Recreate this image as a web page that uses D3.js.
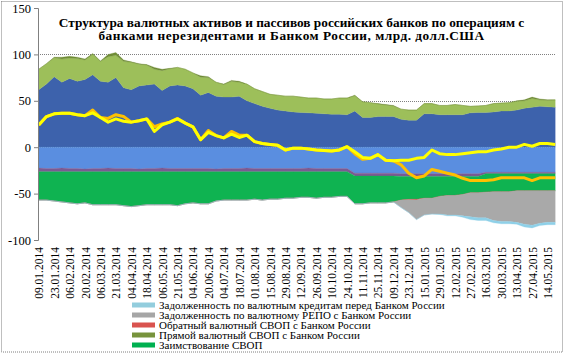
<!DOCTYPE html>
<html><head><meta charset="utf-8">
<script src="https://cdn.jsdelivr.net/npm/d3@7"></script>
<style>body{margin:0;background:#fff}</style>
</head><body><svg id="c" width="565" height="355" font-family="'Liberation Serif', 'Times New Roman', Tinos, serif"></svg>
<script>
// x-axis tick labels (every 10 trading days)
const tickLabels = ["09.01.2014","23.01.2014","06.02.2014","20.02.2014","06.03.2014","21.03.2014","04.04.2014","18.04.2014","06.05.2014","21.05.2014","04.06.2014","20.06.2014","04.07.2014","18.07.2014","01.08.2014","15.08.2014","29.08.2014","12.09.2014","26.09.2014","10.10.2014","24.10.2014","11.11.2014","25.11.2014","09.12.2014","23.12.2014","15.01.2015","29.01.2015","12.02.2015","27.02.2015","16.03.2015","30.03.2015","13.04.2015","27.04.2015","14.05.2015"];
const yTicks = [-100,-50,0,50,100,150];
// series sampled every 5 trading days (68 samples)
const posBlue  = [62,68,76,70,74,71,73,78,71,70,75,64,62,66,67,68,61,66,67,66,63,56,59,55,54,54,55,50,47,44,42,40,39,38,37.5,37,36.5,36,35.5,35.5,35,39,32,32,33,33,33,30,29,29,36,36,35,35,35,35,37,37.5,37.5,38,39,39,40,42,43,44,43.5,43];
const posGreen = [22,22,20.5,25,22,24.5,21,22,21.5,27.5,24,28.5,29.5,23.5,21.5,16,21.5,18.5,19,18,17,19.5,16,15,13.5,17,15,18,16,16,15,16,16,17,16.5,16,16.5,16,16.5,17.5,18,16.5,17,16,13.5,12.5,11.5,11,11,11,11,11,10,10,11,10,7,7,7.5,9,8.5,9,9.5,8,9.5,7,7,8];
const olive    = [0,0,0.5,2,2,1.5,1,1,0.5,2.5,3,1.5,0.5,0.5,0.5,2,1.5,0.5,0,0,0,1.5,1,0,0.5,1,1,0,0,0,0,0,0,0,0,0,0,0,0,0,0,0.5,0,0,0.5,0.5,0.5,0,0,0,0,0,0,0,0,0,0,0,0,0,0,0,0.5,1,1.5,1,0.5,0];
const negBlue  = [-22.5,-23,-23,-22.5,-23,-23,-23.5,-23,-23,-22.5,-23,-23,-23,-23.5,-23,-23,-22.5,-23,-23,-23,-23,-23,-23,-23.5,-23,-23,-23,-22.5,-23,-23,-23,-23,-23,-23,-23,-22.5,-23,-23,-23,-23,-23,-28,-28,-28,-28,-28,-28,-28.5,-28.5,-28.5,-28.5,-28.5,-28.5,-28.5,-28.5,-28.5,-28.5,-28.5,-27,-27,-27,-27,-27,-27,-27,-27,-27,-27];
const negPurple= [-4,-3.5,-3.5,-4,-3.5,-3.5,-3,-3.5,-3.5,-4,-3.5,-3.5,-3.5,-3,-3.5,-3.5,-4,-3.5,-3.5,-3.5,-3.5,-3.5,-3.5,-3,-3.5,-3.5,-3.5,-4,-3.5,-3.5,-3.5,-3.5,-3.5,-3.5,-3.5,-4,-3.5,-3.5,-3.5,-3.5,-3.5,-3,-3,-3,-3,-3,-3,-3,-3,-3,-3,-3,-3,-3,-3,-3,-3,-3,-1.5,-1.5,-1.5,-1.5,-1.5,-1.5,-1.5,-1.5,-1.5,-1.5];
const negGreen = [-30.5,-30.5,-31.5,-32.5,-33.5,-34.5,-33.5,-35.5,-35.5,-35.5,-35.5,-36.5,-37.5,-36.5,-35.5,-35.5,-35.5,-35.5,-36.5,-34.5,-33.5,-34.5,-34.5,-31.5,-30.5,-30.5,-30.5,-30.5,-29.5,-30.5,-29.5,-29.5,-28.5,-28.5,-27.5,-27.5,-28.5,-27.5,-27.5,-26.5,-26.5,-30,-30,-29,-29,-29,-28,-25.5,-24.5,-24.5,-23.5,-23.5,-21.5,-20.5,-20.5,-19.5,-17.5,-17.5,-20,-19.5,-19.5,-19.5,-18.5,-18.5,-18.5,-18.5,-18.5,-18.5];
const negRed   = [0,0,0,0,0,0,0,0,0,0,0,0,0,0,0,0,0,0,0,0,0,0,0,0,0,0,0,0,0,0,0,0,0,0,0,0,0,0,0,0,0,0,0,0,0,0,0,0,-0.5,-1,0,0,0,0,0,0,0,0,0,0,0,0,0,0,0,0,0,0];
const negGray  = [0,0,0,0,0,0,0,0,0,0,0,0,0,0,0,0,0,0,0,0,0,0,0,0,0,0,0,0,0,0,0,0,0,0,0,0,0,0,0,0,0,0,0,0,0,0,0,-8,-14,-21,-18,-17,-19,-21,-21,-23,-26,-27,-27.5,-31,-32,-32,-34,-36,-37,-35,-34,-34];
const negLtBlue= [0,0,0,0,0,0,0,0,0,0,0,0,0,0,0,0,0,0,0,0,0,0,0,0,0,0,0,0,0,0,0,0,0,0,0,0,0,0,0,0,0,0,0,0,0,0,0,0,0,0,0,0,-0.5,-1,-1,-1.5,-3,-3,-3,-2.5,-2.5,-2.5,-2,-3,-3,-2.5,-2.5,-2.5];
const lineYellow = [24,33,36,36.5,36.5,35,34,37,32,27,30.5,28,27,28.5,30.5,17,24,27,30.5,26,22,8,16,12.5,10,14,10.5,13,6,4,3,2,-3,-1,-1,-2,-3,-3.5,-4,-3,0.5,-5,-11,-12,-8,-14,-14.5,-14,-14,-12,-11,-3,-7,-8,-8,-7,-6,-5,-5,-3,-2,0,0,3,1,4,4,3];
const lineOrange = [24,33,36,36.5,36.5,35,34,40,32,31,35,33,27,28.5,30.5,22,25,27,31,26,22,8,18,12.5,10,17,13,13,6,4,3,2,-3,-1,-1,-2,-3,-3.5,-4,-3,0.5,-7,-13,-12,-8,-14,-14.5,-19,-28,-33,-31,-24,-26,-28,-30,-33.5,-36,-36,-36,-35,-33,-33,-33,-33,-36,-33,-33,-33];

const seriesDefs = [
  {v: posBlue,   c: "#3D62AC"},
  {v: posGreen,  c: "#9DBF5A"},
  {v: olive,     c: "#6F8C36"},
  {v: negBlue,   c: "#5A8EE0"},
  {v: negPurple, c: "#7B5A92"},
  {v: negGreen,  c: "#0FB351"},
  {v: negRed,    c: "#D9534F"},
  {v: negGray,   c: "#A9A9A9"},
  {v: negLtBlue, c: "#8ED0E8"}
];
const legendItems = [
  {t: "Задолженность по валютным кредитам перед Банком России", c: "#93CDDD"},
  {t: "Задолженность по валютному РЕПО  с Банком России", c: "#A6A6A6"},
  {t: "Обратный  валютный СВОП с Банком России", c: "#D9534F"},
  {t: "Прямой валютный СВОП с Банком России", c: "#77933C"},
  {t: "Заимствование СВОП", c: "#00B050"}
];

const FF = "'Liberation Serif', 'Times New Roman', Tinos, serif";
const svg = d3.select("#c");
const nDays = 336, step = 5, nPts = posBlue.length;
const x = d3.scaleLinear().domain([-0.5, nDays - 0.5]).range([38, 556]);
const y = d3.scaleLinear().domain([-100, 150]).range([240, 8]);

// border
svg.append("rect").attr("x",1.5).attr("y",1.5).attr("width",561).attr("height",350.5)
  .attr("fill","none").attr("stroke","#7f7f7f").attr("stroke-dasharray","1,1");

// gridlines
svg.append("g").selectAll("line").data([0,50,100]).join("line")
  .attr("x1",38).attr("x2",556).attr("y1",d=>Math.round(y(d))+0.5).attr("y2",d=>Math.round(y(d))+0.5)
  .attr("stroke","#808080").attr("stroke-dasharray","1,1");

// manual diverging stack
const stacked = seriesDefs.map(()=>[]);
for (let k=0;k<nPts;k++){
  let pos=0, neg=0;
  seriesDefs.forEach((s,i)=>{
    const v=s.v[k];
    if(i<3){ stacked[i].push([k,pos,pos+v]); pos+=v; }
    else { stacked[i].push([k,neg,neg+v]); neg+=v; }
  });
}
const area = d3.area().x(d=>x(d[0]*step)).y0(d=>y(d[1])).y1(d=>y(d[2]));
svg.append("g").selectAll("path").data(stacked).join("path")
  .attr("d",area).attr("fill",(d,i)=>seriesDefs[i].c)
  .attr("stroke",(d,i)=>seriesDefs[i].c).attr("stroke-width",0.3);

// lines
const line = d3.line().x((d,k)=>x(k*step)).y(d=>y(d));
svg.append("path").datum(lineOrange).attr("d",line).attr("fill","none")
  .attr("stroke","#FFC000").attr("stroke-width",3).attr("stroke-linejoin","round");
svg.append("path").datum(lineYellow).attr("d",line).attr("fill","none")
  .attr("stroke","#FFFF00").attr("stroke-width",3).attr("stroke-linejoin","round");

// y axis
const ya = svg.append("g").attr("transform","translate(38,0)")
  .call(d3.axisLeft(y).tickValues(yTicks).tickSize(4).tickPadding(3).tickFormat(d=>d));
ya.attr("font-family", FF);
ya.select(".domain").attr("stroke","#808080");
ya.selectAll(".tick line").attr("stroke","#808080");
ya.selectAll("text").attr("font-size",12.5).attr("fill","#000").attr("font-family",FF);

// legend
const lg = svg.append("g");
legendItems.forEach((it,i)=>{
  const cy = 305 + i*10;
  lg.append("rect").attr("x",132).attr("y",cy-2.5).attr("width",23).attr("height",5).attr("fill",it.c);
  lg.append("text").attr("x",159).attr("y",cy+3.5).attr("font-size",11).attr("font-family",FF).text(it.t);
});

// x tick labels
svg.append("g").selectAll("text").data(tickLabels).join("text")
  .attr("transform",(d,i)=>`translate(${x(i*10)+0.5},247) rotate(-90)`)
  .attr("text-anchor","end").attr("dominant-baseline","central")
  .attr("font-size",11.5).attr("font-family",FF).text(d=>d);

// title
const tt = svg.append("text").attr("text-anchor","middle").attr("font-weight","bold")
  .attr("font-size",13.3).attr("font-family",FF);
tt.append("tspan").attr("x",291.5).attr("y",26.5).text("Структура  валютных активов и пассивов российских банков по операциям с");
tt.append("tspan").attr("x",291.5).attr("y",40).attr("letter-spacing",0.5).text("банками  нерезидентами и Банком России, млрд. долл.США");
</script></body></html>
